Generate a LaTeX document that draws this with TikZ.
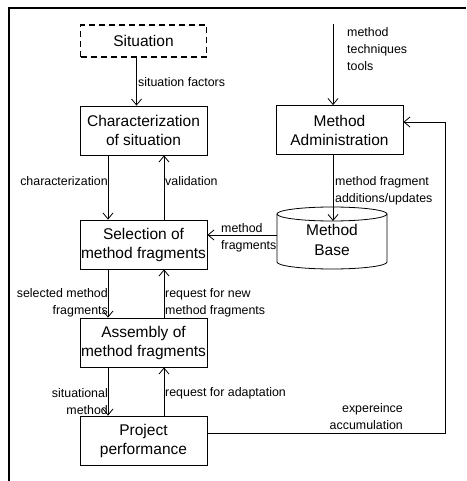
\documentclass[tikz,border=0pt]{standalone}
\usepackage{fontspec}
\setmainfont{Liberation Sans}
\usetikzlibrary{arrows.meta}

\begin{document}
\begin{tikzpicture}[x=1pt,y=-1pt,
  box/.style={draw, line width=0.8pt, minimum width=127pt, minimum height=49pt,
    inner sep=0pt, align=center, font=\fontsize{15.5}{19}\selectfont},
  lbl/.style={inner sep=0pt, font=\fontsize{12.4}{17}\selectfont},
  arr/.style={line width=0.8pt, -{Straight Barb[length=6pt,width=10pt,line width=0.8pt]}},
  conn/.style={line width=0.8pt}]
  \useasboundingbox (0,0) rectangle (466,481);

  % partial frame
  \draw[line width=2pt] (9,481) -- (9,8) -- (466,8);

  % process boxes
  \node[box, dashed, dash pattern=on 6pt off 4pt, line width=1.5pt,
        minimum width=126pt, minimum height=32pt] (sit) at (143.5,41) {Situation};
  \node[box] (char) at (143.5,130.5) {Characterization\\of situation};
  \node[box] (sel)  at (143.5,244.5) {Selection of\\method fragments};
  \node[box] (asm)  at (143.5,342.5) {Assembly of\\method fragments};
  \node[box] (proj) at (143.5,440.5) {Project\\performance};
  \node[box] (ma)   at (339.5,130)   {Method\\Administration};

  % method base cylinder
  \node[inner sep=0pt, minimum width=110pt, minimum height=62pt] (mb) at (332,238) {};
  \draw[conn] (277,214) -- (277,262) arc[start angle=180, end angle=360, x radius=55pt, y radius=7pt]
              -- (387,214);
  \draw[conn] (332,214) ellipse[x radius=55pt, y radius=7pt];
  \node[align=center, inner sep=0pt, font=\fontsize{15.5}{20}\selectfont] (mbt) at (332,240) {Method\\Base};
  \coordinate (mbtop) at (333,221);
  \coordinate (mbleft) at (277,235);

  % external input
  \coordinate (src) at (333,24);

  % connectors of the main chain
  \draw[arr] ([xshift=-7pt]sit.south) -- ([xshift=-7pt]char.north);
  \draw[arr] ([xshift=-35.5pt]char.south) -- ([xshift=-35.5pt]sel.north);
  \draw[arr] ([xshift=20.5pt]sel.north) -- ([xshift=20.5pt]char.south);
  \draw[arr] ([xshift=-35.5pt]sel.south) -- ([xshift=-35.5pt]asm.north);
  \draw[arr] ([xshift=20.5pt]asm.north) -- ([xshift=20.5pt]sel.south);
  \draw[arr] ([xshift=-35.5pt]asm.south) -- ([xshift=-35.5pt]proj.north);
  \draw[arr] ([xshift=20.5pt]proj.north) -- ([xshift=20.5pt]asm.south);

  % method administration side
  \draw[arr] (src) -- (src |- ma.north);
  \draw[arr] (src |- ma.south) -- (mbtop);
  \draw[arr] (mbleft) -- (mbleft -| sel.east);
  \draw[arr] ([yshift=7.5pt]proj.east) -- ++(238,0) |- ([yshift=8pt]ma.east);

  % labels
  \node[lbl, anchor=west] at (138,82) {situation factors};
  \node[lbl, anchor=east] at (108,181) {characterization};
  \node[lbl, anchor=west] at (165,181) {validation};
  \node[lbl, anchor=east, align=right] at (108,302.5) {selected method\\fragments};
  \node[lbl, anchor=west, align=left] at (165,302.5) {request for new\\method fragments};
  \node[lbl, anchor=east, align=right] at (108,401.5) {situational\\method};
  \node[lbl, anchor=west] at (165,393) {request for adaptation};
  \node[lbl, anchor=east, align=right] at (403,416.5) {expereince\\accumulation};
  \node[lbl, anchor=west, align=left] at (335,190.5) {method fragment\\additions/updates};
  \node[lbl, anchor=west, align=left] at (347,49.5) {method\\techniques\\tools};
  \node[lbl, anchor=west, align=left] at (221,238) {method\\fragments};
\end{tikzpicture}
\end{document}
